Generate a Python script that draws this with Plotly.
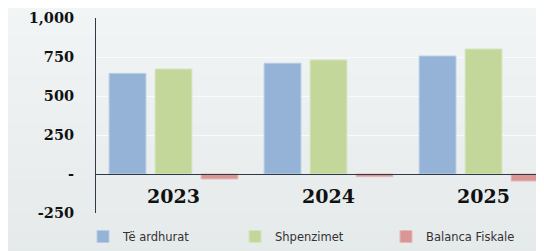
import plotly.graph_objects as go

years = ["2023", "2024", "2025"]
revenues = [645, 710, 756]
expenditures = [673, 731, 801]
balance = [-32, -17, -45]
series_names = ["Të ardhurat", "Shpenzimet", "Balanca Fiskale"]
y_tick_vals = [-250, 0, 250, 500, 750, 1000]
y_tick_text = ["-250", "-", "250", "500", "750", "1,000"]

colors = ["#95b3d7", "#c4d79b", "#da9694"]
edges = ["#b8cce4", "#d7e4bc", "#e6b9b8"]
legend_ids = ["legend", "legend2", "legend3"]
legend_x = [75, 227, 378]

fig = go.Figure()
for name, vals, c, e, lg in zip(series_names, [revenues, expenditures, balance], colors, edges, legend_ids):
    fig.add_trace(go.Bar(x=years, y=vals, name=name, legend=lg,
                         marker=dict(color=c, line=dict(color=e, width=1))))

# background gradient strips
shapes = []
n = 30
top = (242, 245, 246)
bot = (227, 232, 233)
for i in range(n):
    t = i / (n - 1)
    col = tuple(round(top[k] + (bot[k] - top[k]) * t) for k in range(3))
    shapes.append(dict(type="rect", xref="paper", yref="paper", layer="below",
                       x0=-0.3, x1=1.1, y0=1.1 - (i + 1) * (1.5 / n) - 0.01,
                       y1=1.1 - i * (1.5 / n) + 0.01,
                       fillcolor="rgb(%d,%d,%d)" % col, line=dict(width=0)))

W, H = 536, 243
legend_style = dict(orientation="h", yref="container", y=-0.028, yanchor="bottom",
                    xref="container", xanchor="left",
                    font=dict(family="DejaVu Sans", size=11.5, color="#333333"),
                    bgcolor="rgba(0,0,0,0)", itemwidth=30)

fig.update_layout(
    width=W, height=H,
    margin=dict(l=88, r=0, t=10, b=38, autoexpand=False),
    paper_bgcolor="#eaeeef",
    plot_bgcolor="rgba(0,0,0,0)",
    barmode="group", bargap=0.11, bargroupgap=0.2,
    shapes=shapes,
    showlegend=True,
    font=dict(family="DejaVu Serif", color="#111111"),
)
for lg, lx in zip(legend_ids, legend_x):
    fig.update_layout({lg: dict(legend_style, x=lx / W)})

fig.update_xaxes(range=[-0.5, 2.39], anchor="free", position=0.2,
                 showline=True, linecolor="#2e3b46", linewidth=1,
                 ticks="", showgrid=False, zeroline=False,
                 tickfont=dict(family="DejaVu Serif", size=19, color="#111111", weight="bold"),
                 ticklabelstandoff=5)
fig.update_yaxes(range=[-250, 1000], tickvals=y_tick_vals, ticktext=y_tick_text,
                 showline=True, linecolor="#2e3b46", linewidth=1,
                 showgrid=True, gridcolor="#f9fafb", gridwidth=1,
                 zeroline=False, ticks="",
                 tickfont=dict(family="DejaVu Serif", size=14.5, color="#111111", weight="bold"),
                 ticklabelstandoff=18)

fig.write_html("out.html")
